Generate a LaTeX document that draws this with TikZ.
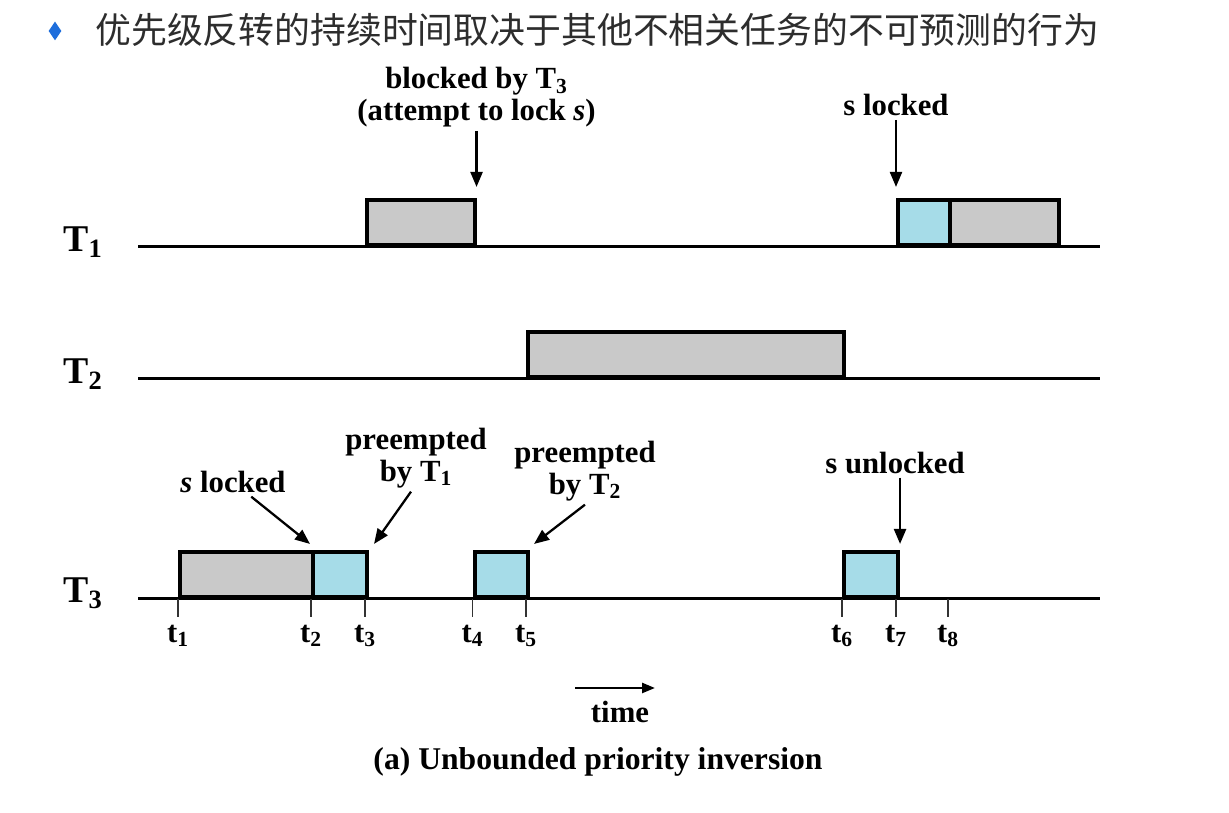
\documentclass[tikz,border=0pt]{standalone}
\usepackage{fontspec}
\setmainfont{Liberation Serif}
\newfontfamily\cjkfont{Noto Sans CJK SC}
\usetikzlibrary{positioning, arrows.meta, shapes.geometric}

\definecolor{boxgray}{RGB}{201,201,201}
\definecolor{boxblue}{RGB}{166,220,232}
\definecolor{bulletblue}{RGB}{30,110,220}
\definecolor{titlegray}{RGB}{45,45,45}

\begin{document}
\begin{tikzpicture}[
    tline/.style={line width=1.7pt},
    gbox/.style={draw, fill=boxgray, line width=2.3pt, minimum height=0.9cm,
                 inner sep=0pt, anchor=south west},
    bbox/.style={gbox, fill=boxblue},
    tlbl/.style={font=\bfseries\fontsize{21.5}{22}\selectfont, anchor=base east,
                 inner sep=0pt},
    note/.style={font=\bfseries\fontsize{17.5}{18}\selectfont, align=center,
                 inner sep=2pt},
    tklbl/.style={font=\bfseries\fontsize{17.5}{18}\selectfont, inner sep=4pt,
                  text=black},
    tick/.style={line width=1.1pt, black!80},
    arr/.style={-{Triangle[length=0.3cm, width=0.24cm]}, line width=1.3pt},
    tarr/.style={-{Triangle[length=0.26cm, width=0.2cm]}, line width=1.4pt},
]
\useasboundingbox (0,0) rectangle (24.58,16.26);

% Positions
\pgfmathsetmacro{\xA}{3.56}
\pgfmathsetmacro{\xB}{6.22}
\pgfmathsetmacro{\xC}{7.30}
\pgfmathsetmacro{\xD}{9.45}
\pgfmathsetmacro{\xE}{10.52}
\pgfmathsetmacro{\xF}{16.84}
\pgfmathsetmacro{\xG}{17.92}
\pgfmathsetmacro{\xH}{18.96}
\pgfmathsetmacro{\xEnd}{21.14}
\pgfmathsetmacro{\yI}{11.32}
\pgfmathsetmacro{\yII}{8.68}
\pgfmathsetmacro{\yIII}{4.28}

% ===== TITLE =====
\node[diamond, fill=bulletblue, minimum width=0.26cm, minimum height=0.38cm,
      inner sep=0pt] (bul) at (1.1,15.64) {};
\node[font=\cjkfont\fontsize{20.4}{24}\selectfont, text=titlegray, anchor=west,
      inner sep=0pt] (title) at (1.9,15.66) {优先级反转的持续时间取决于其他不相关任务的不可预测的行为};

% ===== TIME LINES =====
\draw[tline] (2.76,\yI) -- (22.0,\yI);
\draw[tline] (2.76,\yII) -- (22.0,\yII);
\draw[tline] (2.76,\yIII) -- (22.0,\yIII);

\node[tlbl] (lT1) at (2.06,\yI-0.1) {T\textsubscript{1}};
\node[tlbl] (lT2) at (2.06,\yII-0.1) {T\textsubscript{2}};
\node[tlbl] (lT3) at (2.06,\yIII-0.08) {T\textsubscript{3}};

% ===== T1 =====
\node[gbox, minimum width={(\xD-\xC)*1cm}] (b1a) at (\xC,\yI) {};
\node[bbox, minimum width={(\xH-\xG)*1cm}] (b1b) at (\xG,\yI) {};
\node[gbox, minimum width={(\xEnd-\xH)*1cm}] (b1c) at (\xH,\yI) {};

% ===== T2 =====
\node[gbox, minimum width={(\xF-\xE)*1cm}] (b2a) at (\xE,\yII) {};

% ===== T3 =====
\node[gbox, minimum width={(\xB-\xA)*1cm}] (b3a) at (\xA,\yIII) {};
\node[bbox, minimum width={(\xC-\xB)*1cm}] (b3b) at (\xB,\yIII) {};
\node[bbox, minimum width={(\xE-\xD)*1cm}] (b3c) at (\xD,\yIII) {};
\node[bbox, minimum width={(\xG-\xF)*1cm}] (b3d) at (\xF,\yIII) {};

% ticks
\foreach \tx [count=\i] in {\xA,\xB,\xC,\xD,\xE,\xF,\xG,\xH}
    \draw[tick] (\tx,\yIII) -- ++(0,-0.36) node[tklbl, below] (tk\i) {t\textsubscript{\i}};

% ===== ANNOTATIONS =====
\node[note, anchor=south] (blk) at ([yshift=1.34cm]b1a.north east)
    {blocked by T\textsubscript{3}\\(attempt to lock \textit{s})};
\draw[arr] (blk) -- ([yshift=0.22cm]b1a.north east);

\node[note, anchor=south] (lck1) at ([yshift=1.56cm]b1b.north west) {s locked};
\draw[arr] (lck1) -- ([yshift=0.22cm]b1b.north west);

\node[note] (lck3) at (4.66,6.62) {\textit{s} locked};
\draw[arr] (lck3) -- ([shift={(-0.02,0.12)}]b3b.north west);

\node[note] (pre1) at (8.32,7.1) {preempted\\by T\textsubscript{1}};
\draw[arr] ([xshift=-0.1cm]pre1.south) -- ([shift={(0.1,0.12)}]b3b.north east);

\node[note] (pre2) at (11.7,6.84) {preempted\\by T\textsubscript{2}};
\draw[arr] (pre2.south) -- ([shift={(0.08,0.12)}]b3c.north east);

\node[note] (unl) at (17.9,7.0) {s unlocked};
\draw[arr] (unl.south -| b3d.north east) -- ([yshift=0.12cm]b3d.north east);

% ===== TIME AXIS / CAPTION =====
\coordinate (ts) at (11.5,2.5);
\coordinate (te) at (13.1,2.5);
\draw[tarr] (ts) -- (te);
\node[note] (ltime) at (12.4,2.02) {time};
\node[note, font=\bfseries\fontsize{18}{20}\selectfont] (cap) at (11.96,1.02)
    {(a) Unbounded priority inversion};

\end{tikzpicture}
\end{document}
